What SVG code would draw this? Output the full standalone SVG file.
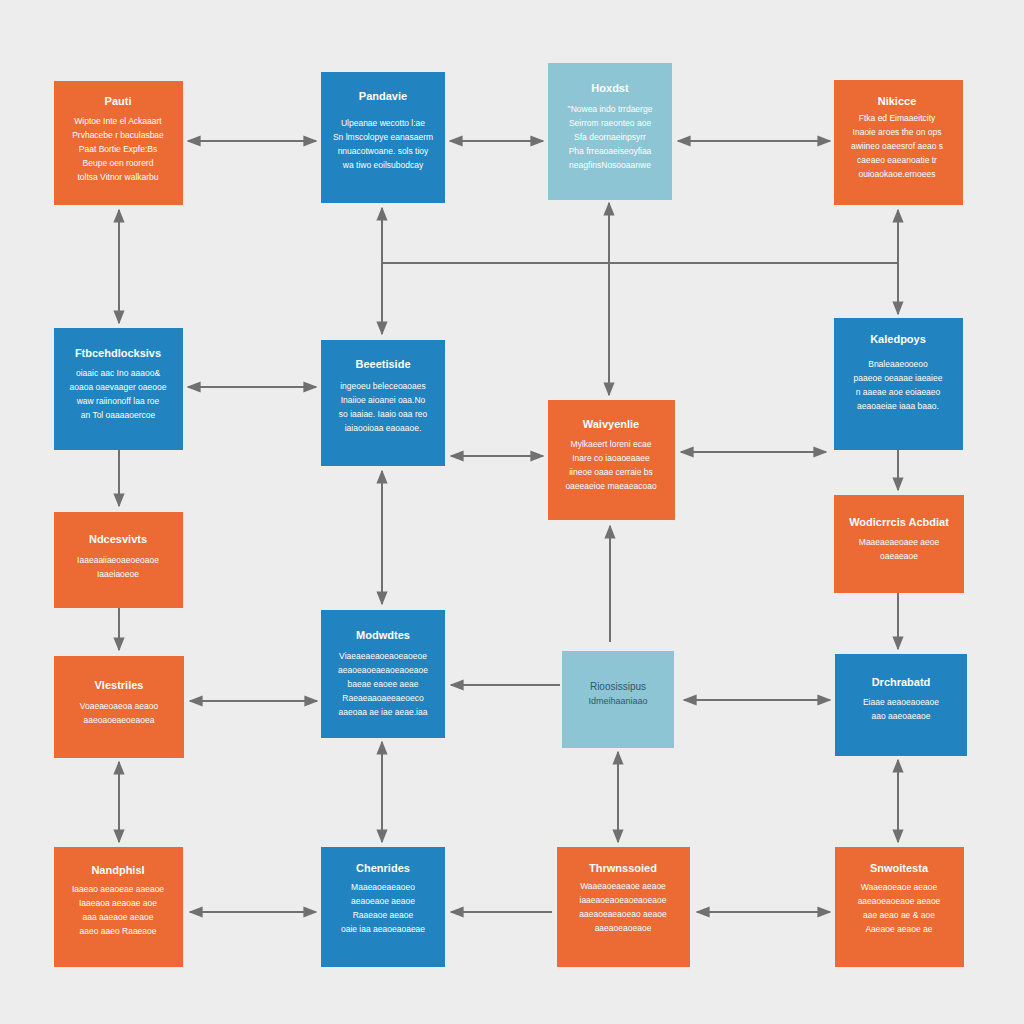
<svg xmlns="http://www.w3.org/2000/svg" width="1024" height="1024" viewBox="0 0 1024 1024">
<defs>
<marker id="ah" viewBox="0 0 10 10" refX="9" refY="5" markerWidth="7" markerHeight="7" orient="auto-start-reverse">
<path d="M0,1 L10,5 L0,9 z" fill="#707070"/>
</marker>
<style>
.o{fill:#EC6A34}
.b{fill:#2283C1}
.l{fill:#8DC5D5}
.t{font-family:"Liberation Sans",Arial,sans-serif;font-size:11px;font-weight:bold;fill:#ffffff;text-anchor:middle}
.d{font-family:"Liberation Sans",Arial,sans-serif;font-size:8.5px;fill:#ffffff;text-anchor:middle}
.dk{fill:#2a5a6a}
.c{stroke:#707070;stroke-width:2;fill:none}
.a2{marker-start:url(#ah);marker-end:url(#ah)}
.a1{marker-end:url(#ah)}
</style>
</defs>
<rect width="1024" height="1024" fill="#EDEDEE"/>
<g id="connectors">
<line class="c a2" x1="188" y1="141" x2="316" y2="141"/>
<line class="c a2" x1="450" y1="141" x2="543" y2="141"/>
<line class="c a2" x1="678" y1="141" x2="830" y2="141"/>
<line class="c a2" x1="119" y1="210" x2="119" y2="323"/>
<line class="c a2" x1="382" y1="208" x2="382" y2="334"/>
<line class="c a2" x1="609" y1="203" x2="609" y2="395"/>
<line class="c a2" x1="898" y1="210" x2="898" y2="314"/>
<line class="c" x1="382" y1="263" x2="898" y2="263"/>
<line class="c a2" x1="188" y1="387" x2="316" y2="387"/>
<line class="c a2" x1="451" y1="456" x2="543" y2="456"/>
<line class="c a2" x1="681" y1="452" x2="826" y2="452"/>
<line class="c a1" x1="119" y1="450" x2="119" y2="506"/>
<line class="c a1" x1="898" y1="450" x2="898" y2="490"/>
<line class="c a1" x1="119" y1="608" x2="119" y2="650"/>
<line class="c a1" x1="898" y1="593" x2="898" y2="649"/>
<line class="c a2" x1="382" y1="471" x2="382" y2="604"/>
<line class="c a1" x1="610" y1="642" x2="610" y2="526"/>
<line class="c a1" x1="560" y1="685" x2="451" y2="685"/>
<line class="c a2" x1="190" y1="701" x2="317" y2="701"/>
<line class="c a2" x1="684" y1="700" x2="830" y2="700"/>
<line class="c a2" x1="119" y1="762" x2="119" y2="842"/>
<line class="c a2" x1="382" y1="742" x2="382" y2="842"/>
<line class="c a2" x1="618" y1="752" x2="618" y2="842"/>
<line class="c a2" x1="898" y1="760" x2="898" y2="842"/>
<line class="c a2" x1="190" y1="912" x2="316" y2="912"/>
<line class="c a1" x1="552" y1="912" x2="451" y2="912"/>
<line class="c a2" x1="697" y1="912" x2="830" y2="912"/>
</g>
<g id="n1"><rect class="o" x="54" y="81" width="129" height="124"/>
<text class="t" x="118" y="105">Pauti</text>
<text class="d" x="118" y="124">Wiptoe Inte el Ackaaart</text>
<text class="d" x="118" y="138">Prvhacebe r baculasbae</text>
<text class="d" x="118" y="152">Paat Bortie Expfe:Bs</text>
<text class="d" x="118" y="166">Beupe oen roorerd</text>
<text class="d" x="118" y="180">toltsa Vitnor walkarbu</text></g>
<g id="n2"><rect class="b" x="321" y="72" width="124" height="131"/>
<text class="t" x="383" y="100">Pandavie</text>
<text class="d" x="383" y="126">Ulpeanae wecotto l:ae</text>
<text class="d" x="383" y="140">Sn lmscolopye eanasaerm</text>
<text class="d" x="383" y="154">nnuacotwoane. sols tioy</text>
<text class="d" x="383" y="168">wa tiwo eoilsubodcay</text></g>
<g id="n3"><rect class="l" x="548" y="63" width="124" height="137"/>
<text class="t" x="610" y="92">Hoxdst</text>
<text class="d" x="610" y="112">"Nowea indo trrdaerge</text>
<text class="d" x="610" y="126">Seirrom raeonteo aoe</text>
<text class="d" x="610" y="140">Sfa deornaeinpsyrr</text>
<text class="d" x="610" y="154">Pha frreaoaeiseoyfiaa</text>
<text class="d" x="610" y="168">neagfinsNosooaanwe</text></g>
<g id="n4"><rect class="o" x="834" y="80" width="129" height="125"/>
<text class="t" x="897" y="105">Nikicce</text>
<text class="d" x="897" y="121">Ftka ed Eimaaeitcity</text>
<text class="d" x="897" y="135">Inaoie aroes the on ops</text>
<text class="d" x="897" y="149">awiineo oaeesrof aeao s</text>
<text class="d" x="897" y="163">caeaeo eaeanoatie tr</text>
<text class="d" x="897" y="177">ouioaokaoe.ernoees</text></g>
<g id="n5"><rect class="b" x="54" y="328" width="129" height="122"/>
<text class="t" x="118" y="357">Ftbcehdlocksivs</text>
<text class="d" x="118" y="376">oiaaic aac Ino aaaoo&amp;</text>
<text class="d" x="118" y="390">aoaoa oaevaager oaeooe</text>
<text class="d" x="118" y="404">waw raiinonoff laa roe</text>
<text class="d" x="118" y="418">an Tol oaaaaoercoe</text></g>
<g id="n6"><rect class="b" x="321" y="340" width="124" height="126"/>
<text class="t" x="383" y="368">Beeetiside</text>
<text class="d" x="383" y="389">ingeoeu beleceoaoaes</text>
<text class="d" x="383" y="403">Inaiioe aioanei oaa.No</text>
<text class="d" x="383" y="417">so iaaiae. Iaaio oaa reo</text>
<text class="d" x="383" y="431">iaiaooioaa eaoaaoe.</text></g>
<g id="n7"><rect class="o" x="548" y="400" width="127" height="120"/>
<text class="t" x="611" y="428">Waivyenlie</text>
<text class="d" x="611" y="447">Mylkaeert loreni ecae</text>
<text class="d" x="611" y="461">Inare co iaoaoeaaee</text>
<text class="d" x="611" y="475">iineoe oaae cerraie bs</text>
<text class="d" x="611" y="489">oaeeaeioe maeaeacoao</text></g>
<g id="n8"><rect class="b" x="834" y="318" width="129" height="132"/>
<text class="t" x="898" y="343">Kaledpoys</text>
<text class="d" x="898" y="367">Bnaleaaeooeoo</text>
<text class="d" x="898" y="381">paaeoe oeaaae iaeaiee</text>
<text class="d" x="898" y="395">n aaeae aoe eoiaeaeo</text>
<text class="d" x="898" y="409">aeaoaeiae iaaa baao.</text></g>
<g id="n9"><rect class="o" x="54" y="512" width="129" height="96"/>
<text class="t" x="118" y="543">Ndcesvivts</text>
<text class="d" x="118" y="563">Iaaeaaiiaeoaeoeoaoe</text>
<text class="d" x="118" y="577">Iaaeiaoeoe</text></g>
<g id="n10"><rect class="o" x="834" y="495" width="130" height="98"/>
<text class="t" x="899" y="526">Wodicrrcis Acbdiat</text>
<text class="d" x="899" y="545">Maaeaeaeoaee aeoe</text>
<text class="d" x="899" y="559">oaeaeaoe</text></g>
<g id="n11"><rect class="o" x="54" y="656" width="130" height="102"/>
<text class="t" x="119" y="689">Vlestriles</text>
<text class="d" x="119" y="709">Voaeaeoaeoa aeaoo</text>
<text class="d" x="119" y="723">aaeoaoeaeoeaoea</text></g>
<g id="n12"><rect class="b" x="321" y="610" width="124" height="128"/>
<text class="t" x="383" y="639">Modwdtes</text>
<text class="d" x="383" y="659">Viaeaeaeaoeaoeaoeoe</text>
<text class="d" x="383" y="673">aeaoeaoeaeaoeaoeaoe</text>
<text class="d" x="383" y="687">baeae eaoee aeae</text>
<text class="d" x="383" y="701">Raeaeaaoaeeaeoeco</text>
<text class="d" x="383" y="715">aaeoaa ae iae aeae.iaa</text></g>
<g id="n13"><rect class="l" x="562" y="651" width="112" height="97"/>
<text class="t dk" x="618" y="690" style="font-weight:normal;font-size:10px">Rioosissipus</text>
<text class="d dk" x="618" y="704" style="font-size:9px">Idmeihaaniaao</text></g>
<g id="n14"><rect class="b" x="835" y="654" width="132" height="102"/>
<text class="t" x="901" y="686">Drchrabatd</text>
<text class="d" x="901" y="705">Eiaae aeaoeaoeaoe</text>
<text class="d" x="901" y="719">aao aaeoaeaoe</text></g>
<g id="n15"><rect class="o" x="54" y="847" width="129" height="120"/>
<text class="t" x="118" y="874">Nandphisl</text>
<text class="d" x="118" y="892">Iaaeao aeaoeae aaeaoe</text>
<text class="d" x="118" y="906">Iaaeaoa aeaoae aoe</text>
<text class="d" x="118" y="920">aaa aaeaoe aeaoe</text>
<text class="d" x="118" y="934">aaeo aaeo Raaeaoe</text></g>
<g id="n16"><rect class="b" x="321" y="847" width="124" height="120"/>
<text class="t" x="383" y="872">Chenrides</text>
<text class="d" x="383" y="890">Maaeaoeaeaoeo</text>
<text class="d" x="383" y="904">aeaoeaoe aeaoe</text>
<text class="d" x="383" y="918">Raaeaoe aeaoe</text>
<text class="d" x="383" y="932">oaie iaa aeaoeaoaeae</text></g>
<g id="n17"><rect class="o" x="557" y="847" width="133" height="120"/>
<text class="t" x="623" y="872">Thrwnssoied</text>
<text class="d" x="623" y="889">Waaeaoeaeaoe aeaoe</text>
<text class="d" x="623" y="903">iaaeaoeaoeaoeaoeaoe</text>
<text class="d" x="623" y="917">aaeaoeaeaoeao aeaoe</text>
<text class="d" x="623" y="931">aaeaoeaoeaoe</text></g>
<g id="n18"><rect class="o" x="835" y="847" width="129" height="120"/>
<text class="t" x="899" y="872">Snwoitesta</text>
<text class="d" x="899" y="890">Waaeaoeaoe aeaoe</text>
<text class="d" x="899" y="904">aaeaoeaoeaoe aeaoe</text>
<text class="d" x="899" y="918">aae aeao ae &amp; aoe</text>
<text class="d" x="899" y="932">Aaeaoe aeaoe ae</text></g>
</svg>
